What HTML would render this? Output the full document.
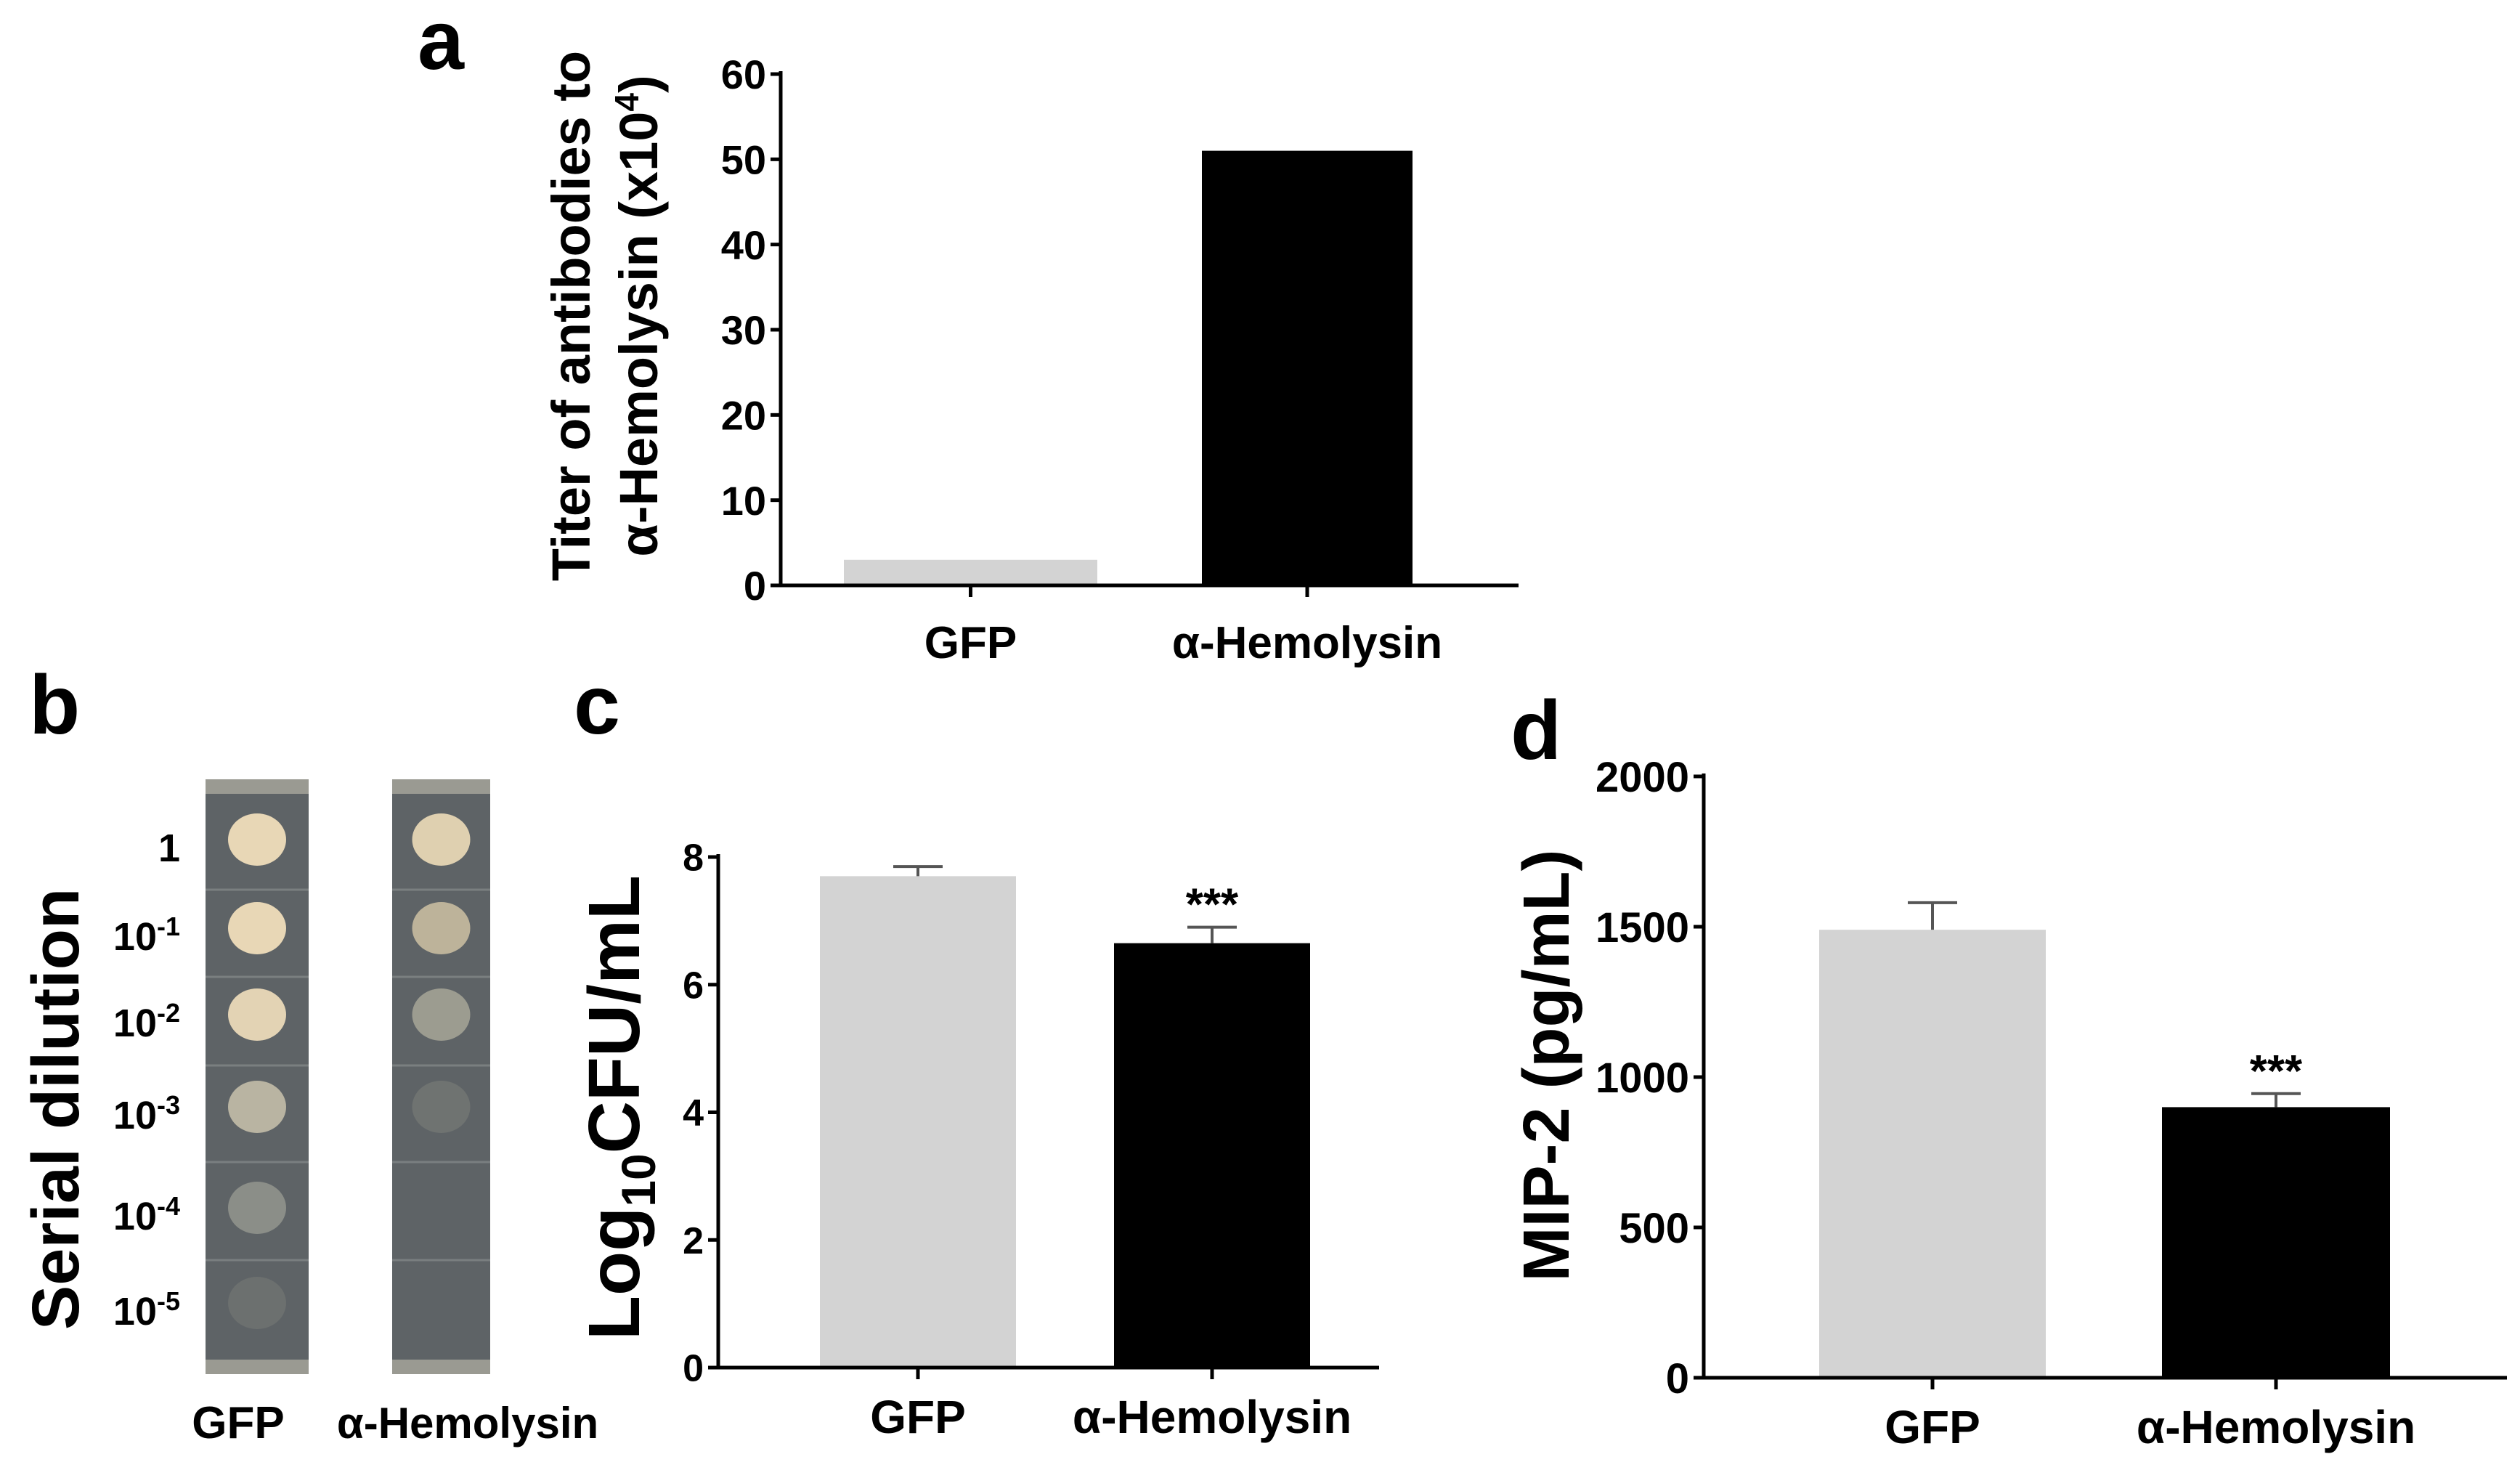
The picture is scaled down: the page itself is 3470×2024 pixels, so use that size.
<!DOCTYPE html>
<html><head><meta charset="utf-8"><style>
html,body{margin:0;padding:0;background:#fff}
svg{display:block}
text{font-family:"Liberation Sans",Arial,sans-serif;font-weight:bold;fill:#000}
.n{font-family:"Liberation Sans Narrow","Liberation Sans",sans-serif}
</style></head><body>
<svg id="fig" width="3470" height="2024" viewBox="0 0 3470 2024" xmlns="http://www.w3.org/2000/svg">
<text x="575" y="95" font-size="115">a</text>
<text x="40" y="1010" font-size="115">b</text>
<text x="790" y="1010" font-size="115">c</text>
<text x="2080" y="1045" font-size="115">d</text>

<text transform="translate(812,435) rotate(-90)" text-anchor="middle" font-size="74">Titer of antibodies to</text>
<text transform="translate(905,435) rotate(-90)" text-anchor="middle" font-size="74">α-Hemolysin (x10<tspan dy="-26" font-size="46">4</tspan><tspan dy="26">)</tspan></text>
<text transform="translate(108,1527) rotate(-90)" text-anchor="middle" font-size="92">Serial dilution</text>
<text transform="translate(880,1525) rotate(-90)" text-anchor="middle" font-size="100">Log<tspan dy="22" font-size="66">10</tspan><tspan dy="-22">CFU/mL</tspan></text>
<text transform="translate(2160,1467) rotate(-90)" text-anchor="middle" font-size="90">MIP-2  (pg/mL)</text>
<g id="plates"></g>
</svg>
<script>
var NS="http://www.w3.org/2000/svg";
var svg=document.getElementById('fig');
function mk(tag,attrs,parent,txt){var e=document.createElementNS(NS,tag);for(var k in attrs)e.setAttribute(k,attrs[k]);if(txt!==undefined)e.textContent=txt;(parent||svg).appendChild(e);return e;}

// ---- data ----
var categories=["GFP","α-Hemolysin"];
var aValues=[3,51];
var aTicks=[0,10,20,30,40,50,60];
var cValues=[7.7,6.65];
var cErrors=[0.15,0.25];
var cTicks=[0,2,4,6,8];
var dValues=[1490,900];
var dErrors=[90,45];
var dTicks=[0,500,1000,1500,2000];
var sigLabels=["","***"];
var barColors=["#d3d3d3","#000000"];
var dilutionLabels=["1","-1","-2","-3","-4","-5"];

function chart(cfg){
  var g=mk('g',{});
  
  
  var y=function(v){return cfg.y0-(v-cfg.min)/(cfg.max-cfg.min)*(cfg.y0-cfg.y1);};
  cfg.ticks.forEach(function(t){
    var l=mk('line',{x1:cfg.ax-14,x2:cfg.ax,y1:y(t),y2:y(t),stroke:'#000','stroke-width':5},g);
    
    
    var tx=mk('text',{x:cfg.ax-20,y:y(t)+cfg.tfs*0.36,'text-anchor':'end','font-size':cfg.tfs,'class':cfg.narrow?'n':''},g,String(t));
    
    
  });
  cfg.values.forEach(function(v,i){
    var bx=cfg.bars[i];
    var r=mk('rect',{x:bx[0],y:y(v),width:bx[1]-bx[0],height:cfg.y0-y(v),fill:barColors[i]},g);
    
    
    var cx=(bx[0]+bx[1])/2;
    if(cfg.errors){
      var ey=y(v+cfg.errors[i]);
      var e1=mk('line',{x1:cx,x2:cx,y1:y(v),y2:ey,stroke:'#555','stroke-width':4},g);
      
      
      var e2=mk('line',{x1:cx-34,x2:cx+34,y1:ey,y2:ey,stroke:'#555','stroke-width':4},g);
      
      
      if(sigLabels[i]){
        var s=mk('text',{x:cx,y:ey-10,'text-anchor':'middle','font-size':62},g,sigLabels[i]);
        
        
      }
    }
    var tk=mk('line',{x1:cx,x2:cx,y1:cfg.y0,y2:cfg.y0+16,stroke:'#000','stroke-width':5},g);
    
    
    var xl=mk('text',{x:cx,y:cfg.y0+cfg.xly,'text-anchor':'middle','font-size':cfg.xfs},g,categories[i]);
    
    
  });
  var ya=mk('line',{x1:cfg.ax,x2:cfg.ax,y1:cfg.y1-4,y2:cfg.y0,stroke:'#000','stroke-width':5},g);
  
  
  var xa=mk('line',{x1:cfg.ax,x2:cfg.xend,y1:cfg.y0,y2:cfg.y0,stroke:'#000','stroke-width':5},g);
  
  
}
chart({name:'chart-a',ax:1075,y0:806,y1:102,min:0,max:60,ticks:aTicks,values:aValues,bars:[[1162,1511],[1655,1945]],xend:2091,tfs:56,narrow:true,xfs:62,xly:100});
chart({name:'chart-c',ax:989,y0:1883,y1:1180,min:0,max:8,ticks:cTicks,values:cValues,errors:cErrors,bars:[[1129,1399],[1534,1804]],xend:1899,tfs:52,xfs:64,xly:90});
chart({name:'chart-d',ax:2346,y0:1897,y1:1069,min:0,max:2000,ticks:dTicks,values:dValues,errors:dErrors,bars:[[2505,2817],[2977,3291]],xend:3452,tfs:58,narrow:true,xfs:64,xly:90});

// panel b plates
var pg=document.getElementById('plates');
var rowsY=[1166,1288,1407,1534,1673,1804];
dilutionLabels.forEach(function(d,i){
  var t=mk('text',{x:248,y:rowsY[i]+20,'text-anchor':'end','font-size':54},pg);
  
  
  if(d==="1"){t.textContent="1";}else{t.textContent="10";var ts=mk('tspan',{dy:-20,'font-size':36},t,d);}
});
function strip(x0,x1,spots,name){
  var r=mk('rect',{x:x0,y:1073,width:x1-x0,height:819,fill:'#5e6366'},pg);
  
  
  mk('rect',{x:x0,y:1073,width:x1-x0,height:20,fill:'#9a9a92'},pg);
  mk('rect',{x:x0,y:1872,width:x1-x0,height:20,fill:'#9a9a92'},pg);
  [1225,1345,1467,1600,1735].forEach(function(yy){mk('line',{x1:x0,x2:x1,y1:yy,y2:yy,stroke:'#7a7f80','stroke-width':3},pg);});
  var cx=(x0+x1)/2;
  spots.forEach(function(s,i){
    var c=mk('ellipse',{cx:cx,cy:rowsY[i]-10,rx:40,ry:36,fill:s,opacity:s=='none'?0:1},pg);
    
    
  });
}
strip(283,425,['#e8d7b6','#e8d7b6','#e3d3b4','#b9b4a2','#8b8e88','#6c706f'],'gfp-plate');
strip(540,675,['#dfd0b0','#bdb39a','#9c9c90','#6f7371','none','none'],'hemolysin-plate');
var gl=mk('text',{x:328,y:1980,'text-anchor':'middle','font-size':62},pg,'GFP');


var hl=mk('text',{x:644,y:1980,'text-anchor':'middle','font-size':60},pg,'α-Hemolysin');


</script>
</body></html>
